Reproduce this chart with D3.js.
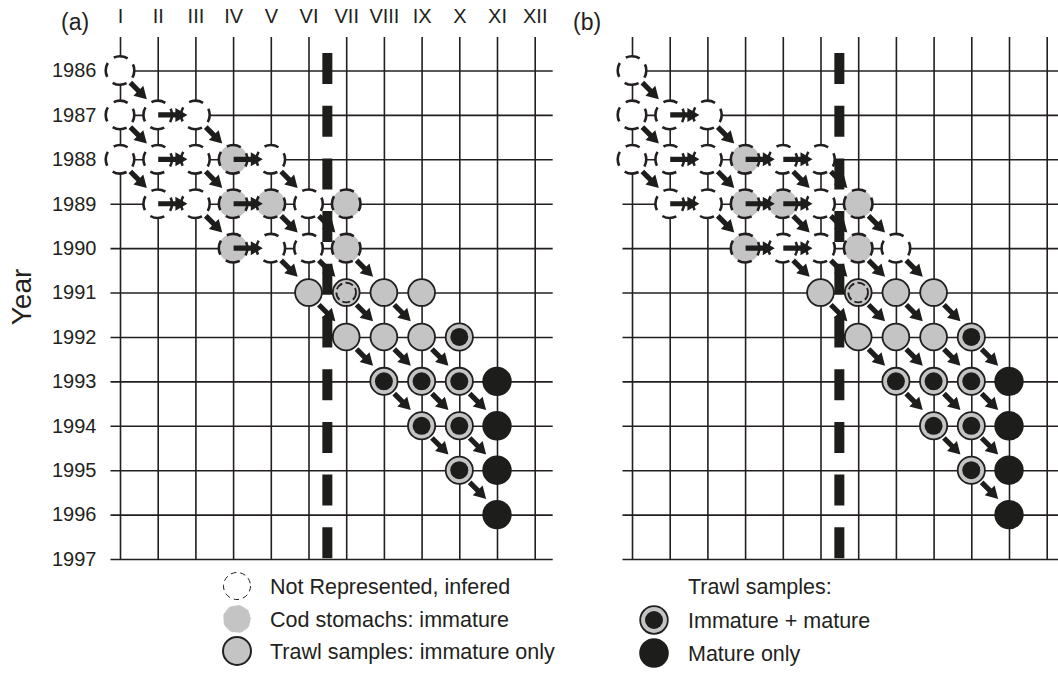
<!DOCTYPE html>
<html><head><meta charset="utf-8">
<script src="https://cdn.jsdelivr.net/npm/d3@7"></script>
<style>
body{margin:0;background:#fff}
svg{display:block}
text{font-family:"Liberation Sans",Arial,Helvetica,sans-serif;fill:#231f20}
</style>
</head><body>
<svg id="c" width="1058" height="673"></svg>
<script>
// ---------- DATA ----------
const months = ["I","II","III","IV","V","VI","VII","VIII","IX","X","XI","XII"];
const years = [1986,1987,1988,1989,1990,1991,1992,1993,1994,1995,1996,1997];
const panelLabels = ["(a)","(b)"];
const axisTitle = "Year";
const boundaryMonth = 6.5; // dashed vertical separator between VI and VII

// cells are [year, month number]
const aInferred = [[1986,1],[1987,1],[1987,2],[1987,3],[1988,1],[1988,2],[1988,3],[1988,5],[1989,2],[1989,3],[1989,6],[1990,5],[1990,6]];
const aCod      = [[1988,4],[1989,4],[1989,5],[1989,7],[1990,4],[1990,7]];
const aTrawlImm = [[1991,6],[1991,7],[1991,8],[1991,9],[1992,7],[1992,8],[1992,9]];
const aTrawlCod = [[1991,7]];
const aImmMat   = [[1992,10],[1993,8],[1993,9],[1993,10],[1994,9],[1994,10],[1995,10]];
const aMature   = [[1993,11],[1994,11],[1995,11],[1996,11]];
// arrows: diagonal (y,m)->(y+1,m+1); horizontal (y,m)->(y,m+1)
const aDiag  = [[1986,1],[1987,1],[1987,3],[1988,1],[1988,3],[1988,5],[1989,3],[1989,5],[1989,6],[1990,5],[1990,6],[1990,7],[1991,6],[1991,7],[1991,8],[1992,7],[1992,8],[1992,9],[1993,8],[1993,9],[1993,10],[1994,9],[1994,10],[1995,10]];
const aHoriz = [[1987,2],[1988,2],[1988,4],[1989,2],[1989,4],[1990,4]];

const bInferred = [[1986,1],[1987,1],[1987,2],[1987,3],[1988,1],[1988,2],[1988,3],[1988,5],[1988,6],[1989,2],[1989,3],[1989,6],[1990,5],[1990,6],[1990,8]];
const bCod      = [[1988,4],[1989,4],[1989,5],[1989,7],[1990,4],[1990,7]];
const bTrawlImm = [[1991,6],[1991,7],[1991,8],[1991,9],[1992,7],[1992,8],[1992,9]];
const bTrawlCod = [[1991,7]];
const bImmMat   = [[1992,10],[1993,8],[1993,9],[1993,10],[1994,9],[1994,10],[1995,10]];
const bMature   = [[1993,11],[1994,11],[1995,11],[1996,11]];
const bDiag  = [[1986,1],[1987,1],[1987,3],[1988,1],[1988,3],[1988,5],[1988,6],[1989,3],[1989,5],[1989,6],[1989,7],[1990,5],[1990,6],[1990,7],[1990,8],[1991,6],[1991,7],[1991,8],[1991,9],[1992,7],[1992,8],[1992,9],[1992,10],[1993,8],[1993,9],[1993,10],[1994,9],[1994,10],[1995,10]];
const bHoriz = [[1987,2],[1988,2],[1988,4],[1988,5],[1989,2],[1989,4],[1989,5],[1990,4],[1990,5]];

const legendA = ["Not Represented, infered","Cod stomachs: immature","Trawl samples: immature only"];
const legendBTitle = "Trawl samples:";
const legendB = ["Immature + mature","Mature only"];

// ---------- DRAW ----------
const ink = "#231f20", gray = "#c4c4c4", black = "#1d1d1b";
const svg = d3.select("#c");
const y = d3.scaleLinear().domain([1986,1997]).range([70.5,559]);
const xA = d3.scaleLinear().domain([1,12]).range([120,534.7]);
const xB = d3.scaleLinear().domain([1,12]).range([632,1046.7]);
const monthNums = d3.range(1,13);

function arrowPoints(x0,y0,x1,y1){
  const dx=x1-x0, dy=y1-y0, L=Math.hypot(dx,dy), ux=dx/L, uy=dy/L, nx=-uy, ny=ux;
  const hl=12, hw=7, sw=2.6;
  const bx=x1-ux*hl, by=y1-uy*hl;
  return [[x0+nx*sw,y0+ny*sw],[bx+nx*sw,by+ny*sw],[bx+nx*hw,by+ny*hw],[x1,y1],
          [bx-nx*hw,by-ny*hw],[bx-nx*sw,by-ny*sw],[x0-nx*sw,y0-ny*sw]];
}

function drawPanel(x, d, withLabels, label){
  const g = svg.append("g");
  const top = 37, left = x(1)-9.5, right = x(12)+18;
  const ay = g.append("g").attr("transform",`translate(${left},0)`)
    .call(d3.axisLeft(y).tickValues(years).tickSizeOuter(0)
      .tickSizeInner(-(right-left)).tickPadding(14)
      .tickFormat(withLabels ? d3.format("d") : () => ""));
  const ax = g.append("g").attr("transform",`translate(0,${top})`)
    .call(d3.axisTop(x).tickValues(monthNums).tickSizeOuter(0)
      .tickSizeInner(-(y(1997)-top)).tickPadding(14)
      .tickFormat(withLabels ? (m => months[m-1]) : () => ""));
  [ax, ay].forEach(a => {
    a.select(".domain").remove();
    a.selectAll(".tick line").attr("stroke", ink).attr("stroke-width",1.6);
    a.selectAll(".tick text").attr("fill", ink).style("font-size","20px");
  });
  ax.selectAll(".tick text").attr("dy","0em");

  g.append("text").attr("x", x(1)-59).attr("y", 30).style("font-size","23px").text(label);

  const cg = g.append("g");
  cg.selectAll(".inf").data(d.inferred).join("circle").attr("class","inf")
    .attr("cx",c=>x(c[1])).attr("cy",c=>y(c[0])).attr("r",14.3)
    .attr("fill","#fff").attr("stroke",ink).attr("stroke-width",2.6)
    .attr("stroke-dasharray","14.5 8").attr("stroke-dashoffset",7);
  cg.selectAll(".cod").data(d.cod).join("circle").attr("class","cod")
    .attr("cx",c=>x(c[1])).attr("cy",c=>y(c[0])).attr("r",14.3)
    .attr("fill",gray).attr("stroke",ink).attr("stroke-width",2.6)
    .attr("stroke-dasharray","14.5 8").attr("stroke-dashoffset",7);
  cg.selectAll(".trw").data(d.trawlImm).join("circle").attr("class","trw")
    .attr("cx",c=>x(c[1])).attr("cy",c=>y(c[0])).attr("r",13.4)
    .attr("fill",gray).attr("stroke",ink).attr("stroke-width",1.8);
  cg.selectAll(".trc").data(d.trawlCod).join("circle").attr("class","trc")
    .attr("cx",c=>x(c[1])).attr("cy",c=>y(c[0])).attr("r",9.8)
    .attr("fill","none").attr("stroke",ink).attr("stroke-width",1.8)
    .attr("stroke-dasharray","8 3.3");
  cg.selectAll(".imo").data(d.immMat).join("circle").attr("class","imo")
    .attr("cx",c=>x(c[1])).attr("cy",c=>y(c[0])).attr("r",13.6)
    .attr("fill",gray).attr("stroke",ink).attr("stroke-width",1.8);
  cg.selectAll(".imi").data(d.immMat).join("circle").attr("class","imi")
    .attr("cx",c=>x(c[1])).attr("cy",c=>y(c[0])).attr("r",9)
    .attr("fill",black);
  cg.selectAll(".mat").data(d.mature).join("circle").attr("class","mat")
    .attr("cx",c=>x(c[1])).attr("cy",c=>y(c[0])).attr("r",14.7)
    .attr("fill",black);

  const ag = g.append("g").attr("fill",black);
  ag.selectAll(".dg").data(d.diag).join("polygon").attr("class","dg")
    .attr("points", c => {
      const mx=(x(c[1])+x(c[1]+1))/2, my=(y(c[0])+y(c[0]+1))/2;
      return arrowPoints(mx-8.5,my-10,mx+8,my+6.5).map(p=>p.join(",")).join(" ");
    });
  ag.selectAll(".hz").data(d.horiz).join("polygon").attr("class","hz")
    .attr("points", c => {
      const yy=y(c[0]);
      return arrowPoints(x(c[1])+0.5,yy,x(c[1]+1)-8,yy).map(p=>p.join(",")).join(" ");
    });

  g.append("line").attr("x1",x(boundaryMonth)).attr("x2",x(boundaryMonth))
    .attr("y1",53).attr("y2",y(1997)).attr("stroke",black).attr("stroke-width",10)
    .attr("stroke-dasharray","31 21.7");
}

drawPanel(xA, {inferred:aInferred, cod:aCod, trawlImm:aTrawlImm, trawlCod:aTrawlCod, immMat:aImmMat, mature:aMature, diag:aDiag, horiz:aHoriz}, true, panelLabels[0]);
drawPanel(xB, {inferred:bInferred, cod:bCod, trawlImm:bTrawlImm, trawlCod:bTrawlCod, immMat:bImmMat, mature:bMature, diag:bDiag, horiz:bHoriz}, false, panelLabels[1]);

svg.append("text").attr("transform","translate(31,297) rotate(-90)")
  .attr("text-anchor","middle").style("font-size","28px").text(axisTitle);

const lgA = svg.append("g");
const lyA = [586,619,651];
lgA.append("circle").attr("cx",237).attr("cy",lyA[0]).attr("r",13.5)
  .attr("fill","#fff").attr("stroke",ink).attr("stroke-width",1)
  .attr("stroke-dasharray","5.5 4");
lgA.append("circle").attr("cx",237).attr("cy",lyA[1]).attr("r",14)
  .attr("fill",gray).attr("stroke","#fff").attr("stroke-width",1)
  .attr("stroke-dasharray","6 4");
lgA.append("circle").attr("cx",237).attr("cy",lyA[2]).attr("r",14)
  .attr("fill",gray).attr("stroke",ink).attr("stroke-width",2);
lgA.selectAll("text").data(legendA).join("text")
  .attr("x",270).attr("y",(t,i)=>lyA[i]).attr("dy","0.35em")
  .style("font-size","21.5px").text(t=>t);

const lgB = svg.append("g");
lgB.append("text").attr("x",688).attr("y",586).attr("dy","0.35em").style("font-size","21.5px").text(legendBTitle);
const lyB = [620,653];
lgB.append("circle").attr("cx",654).attr("cy",lyB[0]).attr("r",13.8)
  .attr("fill",gray).attr("stroke",ink).attr("stroke-width",1.8);
lgB.append("circle").attr("cx",654).attr("cy",lyB[0]).attr("r",9).attr("fill",black);
lgB.append("circle").attr("cx",654).attr("cy",lyB[1]).attr("r",14.8).attr("fill",black);
lgB.selectAll(".lt").data(legendB).join("text").attr("class","lt")
  .attr("x",688).attr("y",(t,i)=>lyB[i]).attr("dy","0.35em")
  .style("font-size","21.5px").text(t=>t);
</script>
</body></html>
